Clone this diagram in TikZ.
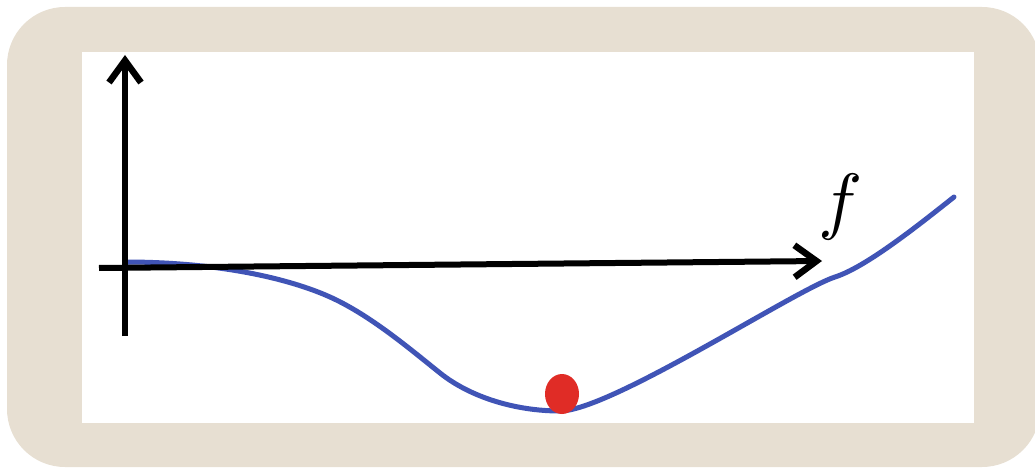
\documentclass[tikz,border=0pt]{standalone}
\usepackage{graphicx}
\usepackage{xcolor}
\usetikzlibrary{arrows.meta,positioning,shapes.geometric}
\definecolor{paper}{RGB}{231,223,210}
\definecolor{curveblue}{RGB}{64,84,182}
\definecolor{ballred}{RGB}{224,44,38}

\begin{document}
\begin{tikzpicture}[
  x=1pt, y=-1pt,
  frame/.style={fill=paper, rounded corners=58pt},
  panel/.style={fill=white},
  axis/.style={line width=6pt, -{Straight Barb[length=22pt, width=32pt, line width=6.5pt]}},
  landscape/.style={curveblue, line width=5pt, line cap=round},
  ball/.style={ellipse, fill=ballred, minimum width=34pt, minimum height=40pt, inner sep=0pt}
]
\useasboundingbox (0,0) rectangle (1035,470);

% Background
\fill[frame] (7,7) rectangle (1040,467);
\fill[panel] (82,52) rectangle (974,423);

% Energy landscape
\draw[landscape] (125,262) .. controls (220,262) and (290,279) .. (330,297)
  .. controls (370,315) and (410,349) .. (440,373)
  .. controls (470,397) and (515,411) .. (560,411)
  .. controls (610,411) and (795,290) .. (835,277)
  .. controls (865,267.4) and (915,228) .. (954,197);

% Axes
\coordinate (origin) at (125,268);
\coordinate (yend) at (125,55);
\coordinate (ystart) at (125,336);
\coordinate (xstart) at (99,268);
\coordinate (xend) at (822,261);
\draw[axis] (ystart) -- (yend);
\draw[axis] (xstart) -- (xend);
\node (flabel) at (841,207) {\scalebox{7.4}{$f$}};

% Ball at the minimum
\node[ball] (ball) at (562,394) {};

\end{tikzpicture}
\end{document}
